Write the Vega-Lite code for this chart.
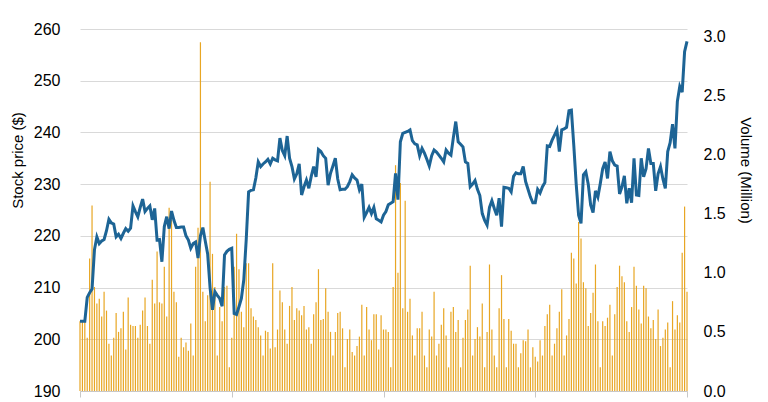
{
  "$schema": "https://vega.github.io/schema/vega-lite/v6.json",
  "width": 607,
  "height": 362,
  "autosize": "none",
  "padding": {"left": 80, "top": 29, "right": 81, "bottom": 11},
  "background": "white",
  "config": {"view": {"stroke": null}, "font": "Liberation Sans"},
  "data": {"values": [
    {"i":0,"p":203.5,"v":0.59},{"i":1,"p":203.5,"v":0.59},{"i":2,"p":203.5,"v":0.59},{"i":3,"p":208.1,"v":0.45},{"i":4,"p":209,"v":1.12},
    {"i":5,"p":209.7,"v":1.57},{"i":6,"p":217.3,"v":0.88},{"i":7,"p":219.8,"v":0.74},{"i":8,"p":218.5,"v":0.78},{"i":9,"p":219,"v":0.63},
    {"i":10,"p":219.3,"v":0.84},{"i":11,"p":221,"v":0.68},{"i":12,"p":223.2,"v":0.4},{"i":13,"p":222.5,"v":0.3},{"i":14,"p":222.3,"v":0.45},
    {"i":15,"p":219.8,"v":0.66},{"i":16,"p":220.3,"v":0.5},{"i":17,"p":219.5,"v":0.53},{"i":18,"p":220.5,"v":0.67},{"i":19,"p":221.4,"v":0.35},
    {"i":20,"p":220.9,"v":0.79},{"i":21,"p":221.5,"v":0.56},{"i":22,"p":225.8,"v":0.55},{"i":23,"p":224.7,"v":0.55},{"i":24,"p":223.7,"v":0.45},
    {"i":25,"p":225.5,"v":0.56},{"i":26,"p":227.1,"v":0.68},{"i":27,"p":224.7,"v":0.79},{"i":28,"p":225.3,"v":0.55},{"i":29,"p":225.8,"v":0.4},
    {"i":30,"p":223.1,"v":0.94},{"i":31,"p":225.3,"v":0.74},{"i":32,"p":219.2,"v":1.18},{"i":33,"p":219.3,"v":0.75},{"i":34,"p":215,"v":0.74},
    {"i":35,"p":221.8,"v":1.05},{"i":36,"p":223.7,"v":0.63},{"i":37,"p":221.4,"v":1.55},{"i":38,"p":224.8,"v":1.45},{"i":39,"p":223,"v":0.84},
    {"i":40,"p":221.6,"v":0.75},{"i":41,"p":221.6,"v":0.29},{"i":42,"p":221.7,"v":0.45},{"i":43,"p":221.7,"v":0.37},{"i":44,"p":220,"v":0.41},
    {"i":45,"p":219.2,"v":0.34},{"i":46,"p":217.6,"v":0.57},{"i":47,"p":218.5,"v":0.3},{"i":48,"p":218.8,"v":1.05},{"i":49,"p":215.7,"v":1.38},
    {"i":50,"p":220,"v":2.95},{"i":51,"p":221.6,"v":0.84},{"i":52,"p":219,"v":0.59},{"i":53,"p":216.5,"v":0.81},{"i":54,"p":210,"v":1.77},
    {"i":55,"p":205.7,"v":1.16},{"i":56,"p":209.2,"v":0.88},{"i":57,"p":208.5,"v":0.3},{"i":58,"p":207.9,"v":0.71},{"i":59,"p":206.4,"v":0.59},
    {"i":60,"p":216.3,"v":0.88},{"i":61,"p":217,"v":0.89},{"i":62,"p":217.4,"v":0.2},{"i":63,"p":217.6,"v":0.45},{"i":64,"p":205,"v":1.05},
    {"i":65,"p":204.8,"v":1.33},{"i":66,"p":206.3,"v":1.03},{"i":67,"p":207.9,"v":0.67},{"i":68,"p":211.5,"v":0.54},{"i":69,"p":219.2,"v":1.08},
    {"i":70,"p":228.5,"v":1.08},{"i":71,"p":228.8,"v":0.7},{"i":72,"p":228.9,"v":0.63},{"i":73,"p":231.2,"v":0.6},{"i":74,"p":234.3,"v":0.54},
    {"i":75,"p":233.4,"v":0.47},{"i":76,"p":233.9,"v":0.3},{"i":77,"p":234.3,"v":0.51},{"i":78,"p":234.8,"v":0.5},{"i":79,"p":233.9,"v":0.36},
    {"i":80,"p":235,"v":1.08},{"i":81,"p":234.7,"v":0.37},{"i":82,"p":234.5,"v":0.52},{"i":83,"p":238.9,"v":0.85},{"i":84,"p":236.5,"v":0.75},
    {"i":85,"p":235.5,"v":0.52},{"i":86,"p":239.3,"v":0.4},{"i":87,"p":235,"v":0.72},{"i":88,"p":233.4,"v":0.88},{"i":89,"p":231,"v":0.6},
    {"i":90,"p":232,"v":0.7},{"i":91,"p":233.9,"v":0.68},{"i":92,"p":227.9,"v":0.64},{"i":93,"p":229.5,"v":0.72},{"i":94,"p":230.8,"v":0.52},
    {"i":95,"p":229.2,"v":0.54},{"i":96,"p":231.5,"v":0.4},{"i":97,"p":233.4,"v":0.65},{"i":98,"p":231.4,"v":0.75},{"i":99,"p":236.7,"v":1.03},
    {"i":100,"p":236.3,"v":0.6},{"i":101,"p":235.5,"v":0.61},{"i":102,"p":235,"v":0.87},{"i":103,"p":229.8,"v":0.67},{"i":104,"p":232.1,"v":0.5},
    {"i":105,"p":233.5,"v":0.3},{"i":106,"p":235,"v":0.5},{"i":107,"p":231,"v":0.66},{"i":108,"p":228.9,"v":0.67},{"i":109,"p":229,"v":0.53},
    {"i":110,"p":229,"v":0.2},{"i":111,"p":229.5,"v":0.44},{"i":112,"p":230.5,"v":0.52},{"i":113,"p":231.8,"v":0.33},{"i":114,"p":231.2,"v":0.3},
    {"i":115,"p":230.8,"v":0.38},{"i":116,"p":228.9,"v":0.46},{"i":117,"p":230,"v":0.73},{"i":118,"p":223.6,"v":0.3},{"i":119,"p":224.5,"v":0.71},
    {"i":120,"p":225.5,"v":0.52},{"i":121,"p":224.3,"v":0.43},{"i":122,"p":225.5,"v":0.65},{"i":123,"p":223.3,"v":0.65},{"i":124,"p":223,"v":0.35},
    {"i":125,"p":222.7,"v":0.64},{"i":126,"p":224,"v":0.52},{"i":127,"p":224.7,"v":0.52},{"i":128,"p":226,"v":0.5},{"i":129,"p":226.3,"v":0.2},
    {"i":130,"p":226.6,"v":0.88},{"i":131,"p":232.1,"v":1.91},{"i":132,"p":227,"v":1.0},{"i":133,"p":238.2,"v":1.76},{"i":134,"p":239.8,"v":0.7},
    {"i":135,"p":240,"v":1.61},{"i":136,"p":240.2,"v":0.67},{"i":137,"p":240.5,"v":0.78},{"i":138,"p":238.4,"v":0.47},{"i":139,"p":237.8,"v":0.3},
    {"i":140,"p":237.6,"v":0.53},{"i":141,"p":235.5,"v":0.53},{"i":142,"p":236.9,"v":0.67},{"i":143,"p":236,"v":0.3},{"i":144,"p":234.8,"v":0.2},
    {"i":145,"p":233.5,"v":0.52},{"i":146,"p":235.5,"v":0.46},{"i":147,"p":236.6,"v":0.84},{"i":148,"p":236.2,"v":0.3},{"i":149,"p":235.6,"v":0.4},
    {"i":150,"p":235,"v":0.56},{"i":151,"p":234.3,"v":0.7},{"i":152,"p":236.6,"v":0.47},{"i":153,"p":236,"v":0.2},{"i":154,"p":235.6,"v":0.67},
    {"i":155,"p":239,"v":0.71},{"i":156,"p":242.1,"v":0.5},{"i":157,"p":238.2,"v":0.6},{"i":158,"p":237.7,"v":0.2},{"i":159,"p":237.2,"v":0.45},
    {"i":160,"p":234.3,"v":0.6},{"i":161,"p":234,"v":0.69},{"i":162,"p":229.5,"v":1.06},{"i":163,"p":230,"v":0.3},{"i":164,"p":230.7,"v":0.44},
    {"i":165,"p":229,"v":0.54},{"i":166,"p":227.8,"v":0.46},{"i":167,"p":224.3,"v":0.74},{"i":168,"p":223,"v":0.2},{"i":169,"p":222.1,"v":0.5},
    {"i":170,"p":225.5,"v":1.07},{"i":171,"p":226.8,"v":0.52},{"i":172,"p":225.3,"v":0.3},{"i":173,"p":224,"v":0.2},{"i":174,"p":227.3,"v":0.7},
    {"i":175,"p":221.8,"v":0.98},{"i":176,"p":229.4,"v":0.61},{"i":177,"p":229.3,"v":0.2},{"i":178,"p":229.2,"v":0.61},{"i":179,"p":228.5,"v":0.51},
    {"i":180,"p":231.5,"v":0.4},{"i":181,"p":232.2,"v":0.4},{"i":182,"p":232,"v":0.2},{"i":183,"p":232,"v":0.32},{"i":184,"p":233.4,"v":0.43},
    {"i":185,"p":230.5,"v":0.42},{"i":186,"p":229,"v":0.52},{"i":187,"p":227.5,"v":0.2},{"i":188,"p":226.4,"v":0.37},{"i":189,"p":226.4,"v":0.29},
    {"i":190,"p":229,"v":0.25},{"i":191,"p":228.3,"v":0.43},{"i":192,"p":229.5,"v":0.3},{"i":193,"p":230.3,"v":0.55},{"i":194,"p":237.4,"v":0.65},
    {"i":195,"p":237.3,"v":0.73},{"i":196,"p":238.5,"v":0.3},{"i":197,"p":239.5,"v":0.4},{"i":198,"p":240.5,"v":0.53},{"i":199,"p":236.3,"v":0.67},
    {"i":200,"p":240.5,"v":0.86},{"i":201,"p":240.7,"v":0.3},{"i":202,"p":241,"v":0.47},{"i":203,"p":244.2,"v":0.61},{"i":204,"p":244.3,"v":1.17},
    {"i":205,"p":237.5,"v":1.12},{"i":206,"p":230,"v":0.91},{"i":207,"p":224,"v":1.43},{"i":208,"p":222.4,"v":1.29},{"i":209,"p":231.8,"v":0.92},
    {"i":210,"p":232.4,"v":0.87},{"i":211,"p":230,"v":0.55},{"i":212,"p":226,"v":0.66},{"i":213,"p":224.5,"v":0.83},{"i":214,"p":228.7,"v":1.07},
    {"i":215,"p":227.5,"v":0.59},{"i":216,"p":230.1,"v":0.2},{"i":217,"p":233,"v":0.59},{"i":218,"p":234.3,"v":0.55},{"i":219,"p":231.1,"v":0.62},
    {"i":220,"p":236.3,"v":0.73},{"i":221,"p":234.5,"v":0.3},{"i":222,"p":233.7,"v":0.65},{"i":223,"p":233.5,"v":0.88},{"i":224,"p":228.1,"v":1.06},
    {"i":225,"p":229.5,"v":0.97},{"i":226,"p":231.6,"v":0.92},{"i":227,"p":226.3,"v":0.59},{"i":228,"p":229.2,"v":0.5},{"i":229,"p":226.4,"v":0.71},
    {"i":230,"p":235,"v":1.05},{"i":231,"p":227.9,"v":0.89},{"i":232,"p":227.8,"v":0.69},{"i":233,"p":235,"v":0.57},{"i":234,"p":231.4,"v":0.89},
    {"i":235,"p":233,"v":0.87},{"i":236,"p":236.9,"v":0.63},{"i":237,"p":234,"v":0.53},{"i":238,"p":234,"v":0.6},{"i":239,"p":228.7,"v":0.44},
    {"i":240,"p":232,"v":0.69},{"i":241,"p":233.4,"v":0.38},{"i":242,"p":231,"v":0.45},{"i":243,"p":229.2,"v":0.52},{"i":244,"p":236.3,"v":0.58},
    {"i":245,"p":238,"v":0.2},{"i":246,"p":241.6,"v":0.76},{"i":247,"p":236.9,"v":0.52},{"i":248,"p":246,"v":0.64},{"i":249,"p":248.9,"v":0.58},
    {"i":250,"p":247.8,"v":1.17},{"i":251,"p":255.6,"v":1.56},{"i":252,"p":257.6,"v":0.84}
  ]},
  "encoding": {
    "x": {
      "field": "i", "type": "quantitative",
      "scale": {"domain": [0, 252], "nice": false, "zero": false, "padding": 0},
      "axis": {"values": [0, 63, 126, 189, 252], "labels": false, "grid": false, "title": null,
               "domainColor": "#c8c8c8", "tickColor": "#c8c8c8", "tickSize": 6, "domainWidth": 1}
    }
  },
  "layer": [
    {
      "mark": {"type": "bar", "width": 1.2, "color": "#E8A623"},
      "encoding": {
        "y": {
          "field": "v", "type": "quantitative",
          "scale": {"domain": [0, 3.062], "nice": false},
          "axis": {"orient": "right", "values": [0, 0.5, 1, 1.5, 2, 2.5, 3], "format": ".1f",
                   "grid": false, "domain": false, "ticks": false, "labelPadding": 16,
                   "labelFontSize": 16, "labelColor": "#000000",
                   "title": "Volume (Million)", "titleFontSize": 15, "titleFontWeight": "normal",
                   "titleColor": "#000000", "titlePadding": 12, "titleY": 141}
        }
      }
    },
    {
      "mark": {"type": "line", "color": "#1d6495", "strokeWidth": 3},
      "encoding": {
        "y": {
          "field": "p", "type": "quantitative",
          "scale": {"domain": [190, 260], "nice": false, "zero": false},
          "axis": {"orient": "left", "values": [190, 200, 210, 220, 230, 240, 250, 260],
                   "grid": true, "gridColor": "#d9d9d9", "gridWidth": 1, "domain": false, "ticks": false,
                   "labelPadding": 20, "labelFontSize": 16, "labelColor": "#000000",
                   "title": "Stock price ($)", "titleFontSize": 15, "titleFontWeight": "normal",
                   "titleColor": "#000000", "titlePadding": 8, "titleY": 131}
        }
      }
    }
  ],
  "resolve": {"scale": {"y": "independent"}}
}
